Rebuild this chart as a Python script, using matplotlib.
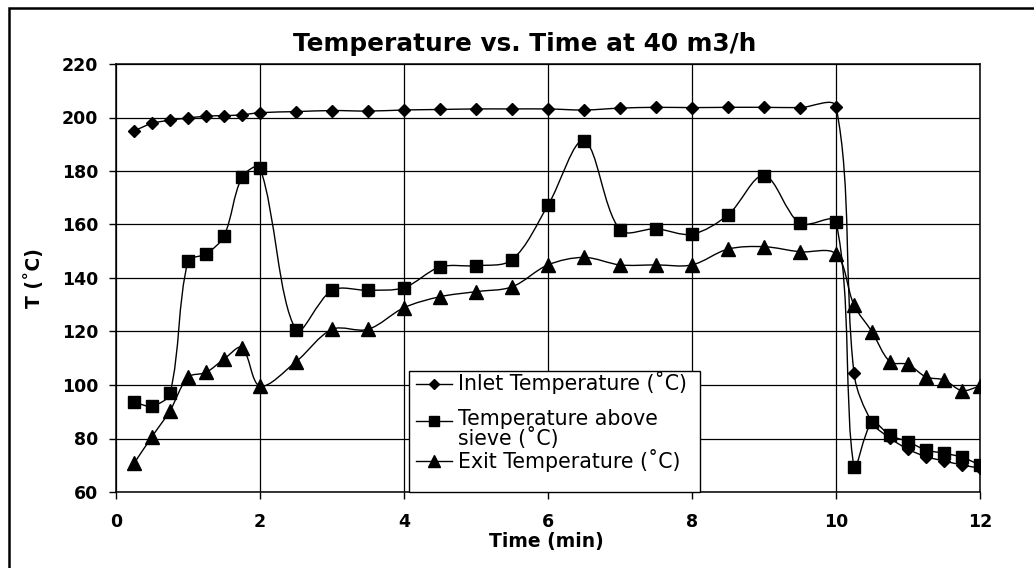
import numpy as np
import matplotlib
matplotlib.use("Agg")
import matplotlib.pyplot as plt
from matplotlib.path import Path
from matplotlib.patches import PathPatch, Rectangle
from matplotlib.lines import Line2D

# время отбора, мин
time_min = [0.25, 0.5, 0.75, 1.0, 1.25, 1.5, 1.75, 2.0, 2.5, 3.0, 3.5, 4.0,
            4.5, 5.0, 5.5, 6.0, 6.5, 7.0, 7.5, 8.0, 8.5, 9.0, 9.5, 10.0,
            10.25, 10.5, 10.75, 11.0, 11.25, 11.5, 11.75, 12.0]

# температуры, °C
inlet_T = [195.0, 197.8, 199.0, 199.8, 200.5, 200.7, 201.0, 201.8, 202.2, 202.6, 202.4, 202.8,
           203.0, 203.2, 203.2, 203.2, 202.8, 203.5, 203.8, 203.7, 203.8, 203.8, 203.7, 204.0,
           104.4, 86.0, 80.1, 76.0, 73.2, 71.6, 70.1, 68.9]
sieve_T = [93.5, 92.2, 96.9, 146.2, 149.0, 155.7, 177.6, 181.2, 120.6, 135.4, 135.4, 136.4,
           144.1, 144.6, 146.8, 167.2, 191.3, 158.0, 158.4, 156.4, 163.6, 178.3, 160.4, 160.9,
           69.5, 86.0, 81.2, 78.8, 75.7, 74.5, 73.0, 70.1]
exit_T = [70.7, 80.7, 90.4, 102.9, 104.7, 109.7, 114.0, 99.6, 108.7, 120.8, 120.8, 128.9,
          133.0, 134.9, 136.7, 144.9, 147.7, 144.9, 144.9, 144.9, 150.8, 151.7, 149.8, 149.0,
          129.9, 119.9, 108.7, 107.7, 103.0, 101.9, 97.9, 99.6]

labels = ["Inlet Temperature (˚C)", "Temperature above\nsieve (˚C)", "Exit Temperature (˚C)"]
markers = ["D", "s", "^"]
msizes = [6.2, 8.5, 9.5]

W, H = 1034, 568
AX_L, AX_R, AX_T, AX_B = 116, 980, 64, 492
XLIM, YLIM = (0, 12), (60, 220)


def fx(px):
    return px / W


def fy(py):
    return 1 - py / H


def smooth_path(x, y):
    # сглаживание как в Excel: Безье, касательные считаются в пикселях
    sx = (AX_R - AX_L) / (XLIM[1] - XLIM[0])
    sy = (AX_B - AX_T) / (YLIM[1] - YLIM[0])
    p = np.column_stack([np.asarray(x) * sx, np.asarray(y) * sy]).astype(float)
    ext = np.vstack([p[0], p, p[-1]])
    verts = [p[0]]
    codes = [Path.MOVETO]
    for i in range(len(p) - 1):
        p0, p1, p2, p3 = ext[i], ext[i + 1], ext[i + 2], ext[i + 3]
        d01 = np.hypot(*(p1 - p0))
        d12 = np.hypot(*(p2 - p1))
        d23 = np.hypot(*(p3 - p2))
        k1 = d12 / (d01 + d12) / 3 if d01 + d12 > 0 else 0
        k2 = d12 / (d12 + d23) / 3 if d12 + d23 > 0 else 0
        c1 = p1 + (p2 - p0) * k1
        c2 = p2 - (p3 - p1) * k2
        verts += [c1, c2, p2]
        codes += [Path.CURVE4] * 3
    verts = np.array(verts) / [sx, sy]
    return Path(verts, codes)


plt.rcParams['font.family'] = ['DejaVu Sans']

fig = plt.figure(figsize=(W / 100, H / 100), dpi=100)
ax = fig.add_axes([fx(AX_L), fy(AX_B), fx(AX_R) - fx(AX_L), fy(AX_T) - fy(AX_B)])

for y, m, ms in zip([inlet_T, sieve_T, exit_T], markers, msizes):
    ax.add_patch(PathPatch(smooth_path(time_min, y), fill=False, edgecolor='black',
                           lw=1.0, zorder=3))
    ax.plot(time_min, y, linestyle='none', marker=m, ms=ms, color='black', zorder=4)

ax.set_xlim(*XLIM)
ax.set_ylim(*YLIM)
ax.set_xticks(np.arange(0, 13, 2))
ax.set_yticks(np.arange(60, 221, 20))
ax.grid(True, color='black', lw=0.9)
ax.set_axisbelow(True)
for s in ax.spines.values():
    s.set_color('black')
    s.set_linewidth(1.1)
ax.tick_params(axis='both', direction='out', length=5, width=1, color='black',
               labelsize=12.5)
ax.tick_params(axis='y', pad=8)
ax.tick_params(axis='x', pad=10)
for t in ax.get_xticklabels() + ax.get_yticklabels():
    t.set_fontweight('bold')

fig.text(fx(525), fy(44), "Temperature vs. Time at 40 m3/h", ha='center', va='center',
         fontsize=17.8, fontweight='bold')
fig.text(fx(546), fy(542), "Time (min)", ha='center', va='center',
         fontsize=13.5, fontweight='bold')
fig.text(fx(34), fy(278), "T (˚C)", ha='center', va='center', rotation=90,
         fontsize=13.5, fontweight='bold')

# легенда поверх графика
fig.patches.append(Rectangle((fx(409), fy(492)), fx(700) - fx(409), fy(371) - fy(492),
                             transform=fig.transFigure, facecolor='white',
                             edgecolor='black', lw=1.0, zorder=5))
rows_y = [384, 421, 461]
base_y = [390.5, 445, 468]
for ry, by, m, ms, lab in zip(rows_y, base_y, markers, msizes, labels):
    fig.add_artist(Line2D([fx(416), fx(452)], [fy(ry), fy(ry)], color='black', lw=1.0,
                          transform=fig.transFigure, zorder=6))
    fig.add_artist(Line2D([fx(434)], [fy(ry)], marker=m, ms=ms * 0.9, color='black',
                          linestyle='none', transform=fig.transFigure, zorder=6))
    fig.text(fx(458), fy(by), lab, ha='left', va='baseline', fontsize=14.8,
             linespacing=0.9, zorder=7)

# внешняя рамка области диаграммы
fig.patches.append(Rectangle((fx(9), fy(600)), fx(1100), fy(8) - fy(600),
                             transform=fig.transFigure, fill=False,
                             edgecolor='black', lw=1.8, zorder=1))

fig.savefig("out.png", dpi=100)
